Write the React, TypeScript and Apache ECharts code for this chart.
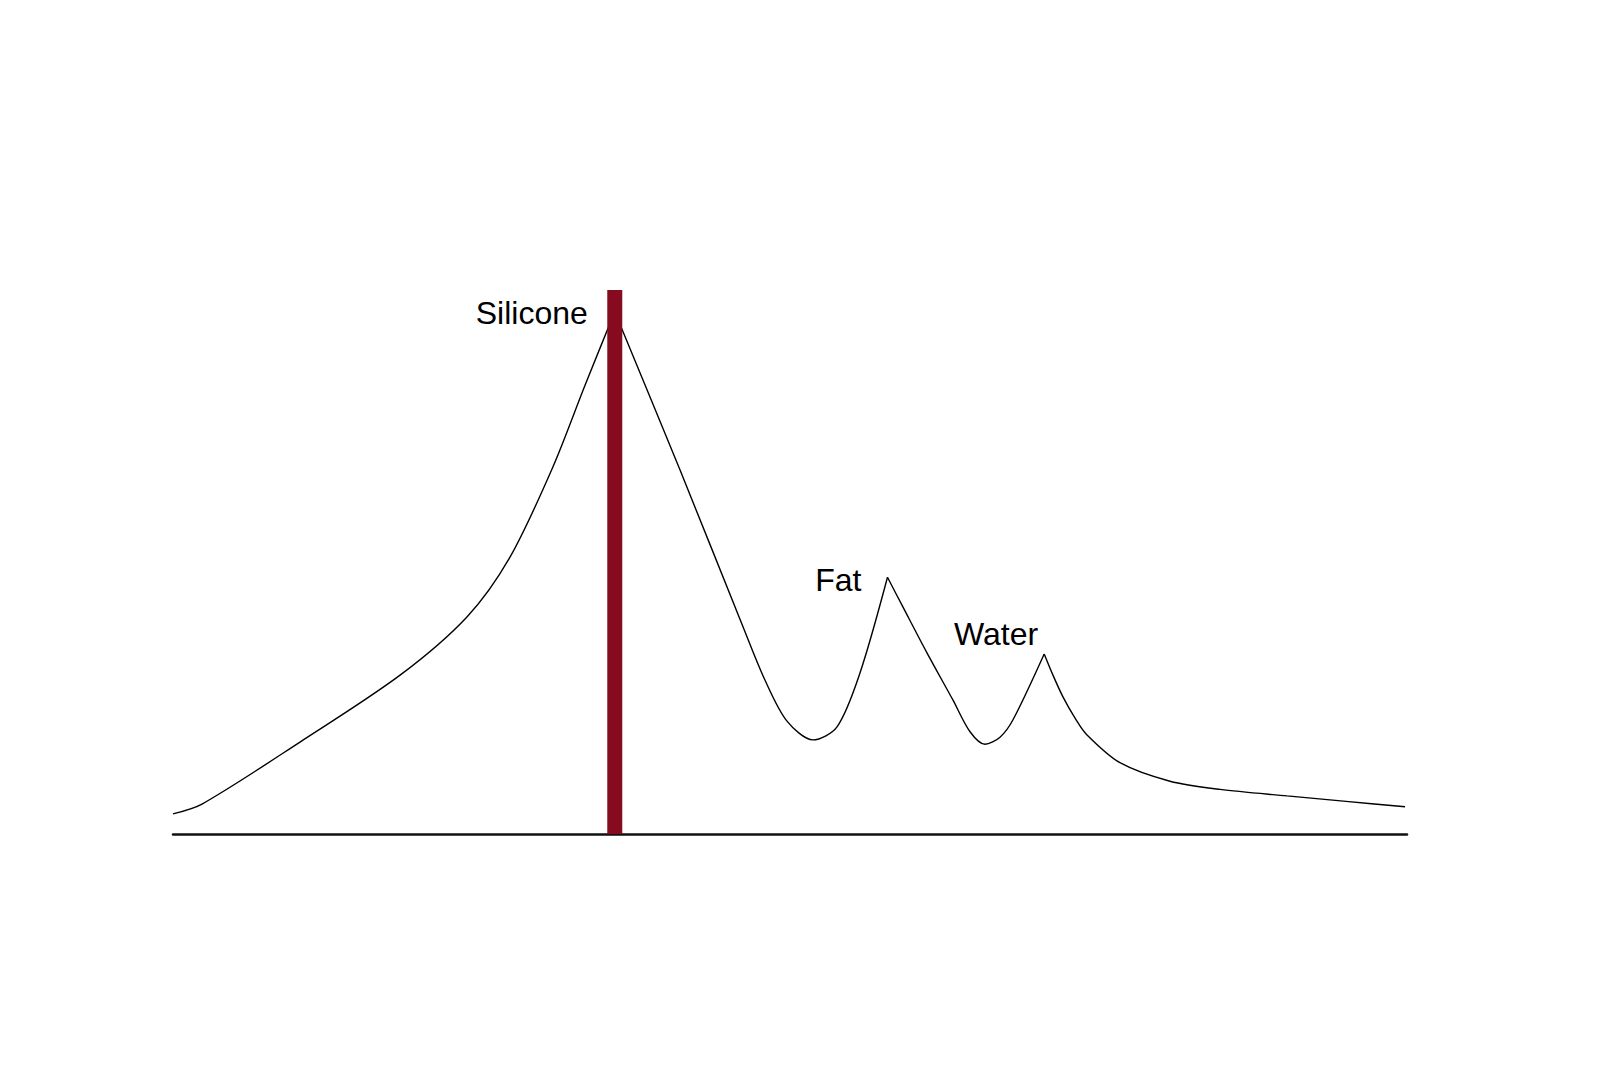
import React, { useEffect, useRef } from 'react';
import * as echarts from 'echarts';

// spectrum curve, x: arbitrary frequency units (0..100), y: signal (0..100)
const curveX = [
  0, 2.35, 10.29, 18.4, 23.82, 27.31, 30.79, 33.39, 35.8,
  41.09, 46.19, 47.97, 49.74, 51.86, 53.81, 55.67, 57.9,
  59.16, 61.1, 63.21, 64.59, 65.8, 67.02, 68.07, 70.6,
  71.31, 72.12, 73.1, 74.07, 76.74, 80.79, 84.85, 90.28, 95.06, 99.84,
];
const curveY = [
  3.7, 5.5, 16.9, 29.2, 39.9, 50.9, 67.5, 82.5, 96.0,
  66.9, 38.1, 28.3, 20.8, 17.3, 19.7, 29.6, 47.2,
  41.7, 33.3, 24.6, 18.8, 16.5, 17.8, 21.0, 33.1,
  29.2, 25.2, 21.3, 18.2, 13.1, 9.7, 8.2, 7.0, 6.0, 5.0,
];

// labelled peaks
const peakNames = ['Silicone', 'Fat', 'Water'];
const peakX = [35.8, 57.9, 70.6];
const peakY = [96.0, 47.2, 33.1];

// selected frequency band (red bar)
const bandX = 35.8;
const bandTop = 100;

const App: React.FC = () => {
  const chartRef = useRef<HTMLDivElement>(null);

  useEffect(() => {
    if (!chartRef.current) return;
    const chart = echarts.init(chartRef.current, undefined, { renderer: 'svg' });

    // split the curve at the peaks so each piece is smoothed but the peaks stay sharp
    const cuts = [0, ...peakX.map(px => curveX.indexOf(px)), curveX.length - 1];
    const pieces = cuts.slice(0, -1).map((start, k) =>
      curveX.slice(start, cuts[k + 1] + 1).map((x, i) => [x, curveY[start + i]]),
    );

    const labelOffsets: Record<string, [number, number]> = {
      Silicone: [-27, 1],
      Fat: [-26, 3],
      Water: [-6, -20],
    };

    const curveSeries = pieces.map((data, k) => ({
      name: 'Spectrum',
      type: 'line',
      data,
      smooth: 0.3,
      showSymbol: false,
      lineStyle: { color: '#000', width: 1.4 },
      z: 2,
      ...(k === 0
        ? {
            markPoint: {
              symbol: 'circle',
              symbolSize: 0,
              itemStyle: { color: 'transparent' },
              data: peakNames.map((name, i) => ({
                name,
                coord: [peakX[i], peakY[i]],
                label: {
                  show: true,
                  formatter: name,
                  position: 'inside',
                  offset: labelOffsets[name],
                  align: 'right',
                  verticalAlign: 'middle',
                  color: '#000',
                  fontSize: 32,
                  fontFamily: 'Liberation Sans, Arial, sans-serif',
                },
              })),
            },
          }
        : {}),
    }));

    chart.setOption({
      animation: false,
      backgroundColor: '#ffffff',
      grid: { left: 173, right: 193, top: 290, bottom: 233 },
      xAxis: {
        type: 'value',
        min: 0,
        max: 100,
        axisLine: { show: true, onZero: false, lineStyle: { color: '#111', width: 2.5 } },
        axisTick: { show: false },
        axisLabel: { show: false },
        splitLine: { show: false },
      },
      yAxis: {
        type: 'value',
        min: 0,
        max: 100,
        show: false,
      },
      series: [
        ...curveSeries,
        {
          name: 'Band',
          type: 'bar',
          data: [[bandX, bandTop]],
          barWidth: 15,
          itemStyle: { color: '#860b1e' },
          z: 3,
        },
      ],
    });

    return () => chart.dispose();
  }, []);

  return (
    <div
      ref={chartRef}
      style={{ position: 'fixed', left: 0, top: 0, width: '100vw', height: '100vh' }}
    />
  );
};

export default App;
